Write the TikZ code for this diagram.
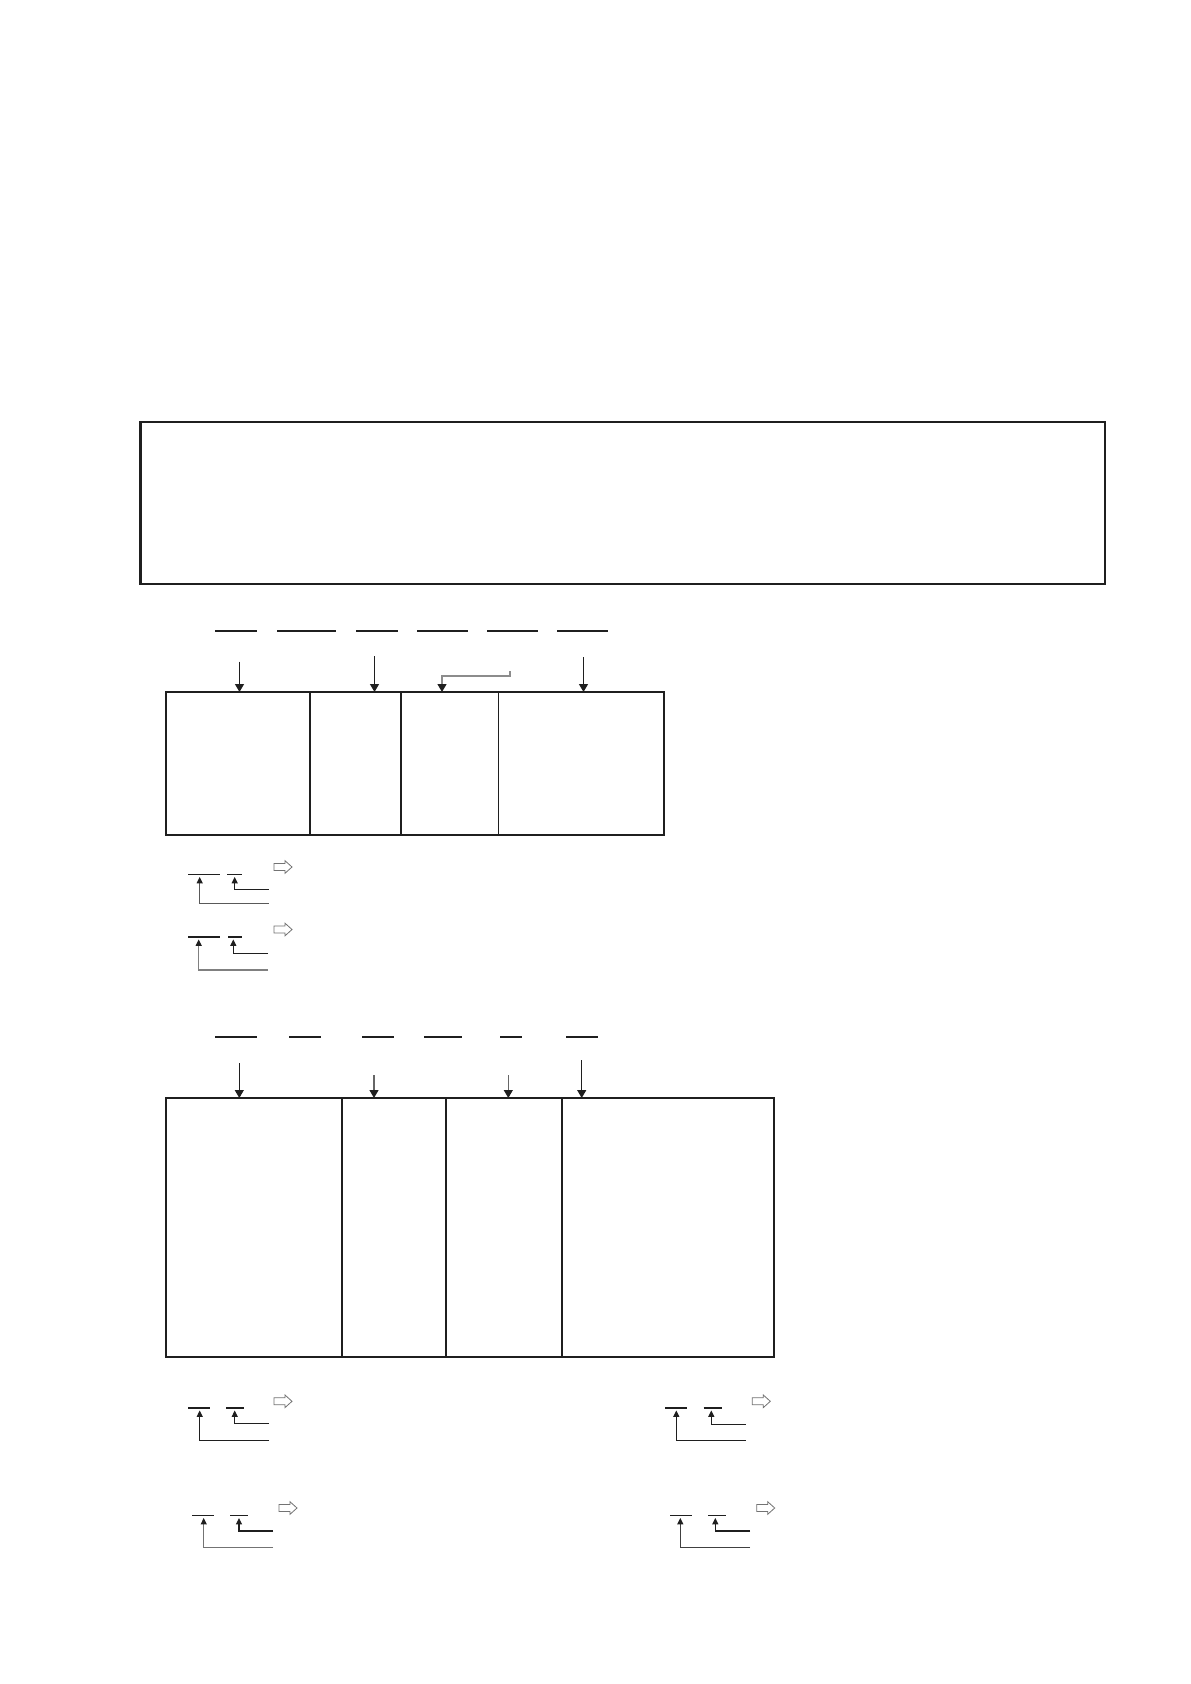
\documentclass[tikz,border=0pt]{standalone}
\usetikzlibrary{arrows.meta}
\newcommand\hollowarrow[2]{%
  \draw[hollow] (#1,#2) ++(0,-3.5) -- ++(11,0) -- ++(0,-2.8) -- ++(7,6.3) -- ++(-7,6.3) -- ++(0,-2.8) -- ++(-11,0) -- cycle;}
\begin{document}
\begin{tikzpicture}[x=0.5pt,y=-0.5pt,
  cell/.style={draw=black!88, line width=0.6pt, inner sep=0pt, outer sep=0pt, anchor=north west},
  bigframe/.style={draw=black!88, line width=1.1pt, inner sep=0pt, outer sep=0pt, anchor=north west,
                   minimum width=482.25pt, minimum height=81pt},
  heavy/.style={draw=black!88, line width=1.05pt},
  blank/.style={draw=black!88, line width=0.9pt},
  thinblank/.style={draw=black!88, line width=0.55pt},
  arr/.style={draw=black!88, line width=0.6pt, -{Triangle[width=4.5pt,length=4pt,color=black!88]}},
  sarr/.style={draw=black!88, line width=0.55pt, -{Triangle[width=3pt,length=3.2pt,color=black!88]}},
  hollow/.style={draw=black!55, line width=0.4pt, fill=white},
  ]
\useasboundingbox (0,0) rectangle (1190,1684);
\fill[white] (0,0) rectangle (1190,1684);

% ---------- large frame ----------
\node[bigframe] (big) at (140.5,422) {};

% ---------- section 1 ----------
\foreach \a/\b in {215/257, 277/336, 356/398, 417/468, 487/538, 557/608}
  \draw[blank] (\a,631) -- (\b,631);

\node[cell, minimum width=72pt,    minimum height=71.5pt] (c11) at (166,692) {};
\node[cell, minimum width=45.5pt,  minimum height=71.5pt] (c12) at (310,692) {};
\node[cell, minimum width=48.75pt, minimum height=71.5pt] (c13) at (401,692) {};
\node[cell, minimum width=82.75pt, minimum height=71.5pt] (c14) at (498.5,692) {};

\coordinate (s11) at (239.5,661.5);
\coordinate (s12) at (374.5,656);
\coordinate (s13) at (510,671);
\coordinate (x13) at (442,0);
\coordinate (s14) at (583.5,657);
\draw[arr] (s11) -- (s11 |- c11.north);
\draw[arr] (s12) -- (s12 |- c12.north);
\draw[arr, draw=black!45] (s13) -- ++(0,5) -| (x13 |- c13.north);
\draw[arr] (s14) -- (s14 |- c14.north);

% group A
\draw[thinblank] (188,874.3) -- (220,874.3);
\draw[thinblank] (227,874.3) -- (242,874.3);
\coordinate (gA1) at (268.7,903.3);
\coordinate (gA2) at (268.7,889.3);
\coordinate (tA1) at (199.7,877);
\coordinate (tA2) at (234.7,877);
\draw[sarr, draw=black!65] (gA1) -| (tA1);
\draw[sarr] (gA2) -| (tA2);
\hollowarrow{274}{867}

% group B
\draw[blank] (188,936.7) -- (220,936.7);
\draw[blank] (228,936.7) -- (242,936.7);
\coordinate (gB1) at (268,970);
\coordinate (gB2) at (268,953.3);
\coordinate (tB1) at (198.7,939.5);
\coordinate (tB2) at (233.3,939.5);
\draw[sarr, draw=black!50] (gB1) -| (tB1);
\draw[sarr] (gB2) -| (tB2);
\hollowarrow{274}{929.5}

% ---------- section 2 ----------
\foreach \a/\b in {215.3/257.3, 289.3/321.3, 362/393.7, 424/461.7, 500/522, 566/598}
  \draw[blank] (\a,1036.7) -- (\b,1036.7);

\node[cell, minimum width=88pt,  minimum height=129.5pt] (c21) at (166,1098) {};
\node[cell, minimum width=52pt,  minimum height=129.5pt] (c22) at (342,1098) {};
\node[cell, minimum width=58pt,  minimum height=129.5pt] (c23) at (446,1098) {};
\node[cell, minimum width=106pt, minimum height=129.5pt] (c24) at (562,1098) {};
\draw[heavy] (c21.north east) -- (c21.south east);
\draw[heavy] (c24.north east) -- (c24.south east) -- (c21.south west);

\coordinate (s21) at (239.3,1063.3);
\coordinate (s22) at (374,1075.3);
\coordinate (s23) at (508.3,1075.3);
\coordinate (s24) at (581.7,1060);
\draw[arr] (s21) -- (s21 |- c21.north);
\draw[arr, draw=black!60] (s22) -- (s22 |- c22.north);
\draw[arr, draw=black!60] (s23) -- (s23 |- c23.north);
\draw[arr] (s24) -- (s24 |- c24.north);

% group C
\draw[blank] (188,1407.7) -- (210,1407.7);
\draw[blank] (226,1407.7) -- (244,1407.7);
\coordinate (gC1) at (269,1440.3);
\coordinate (gC2) at (269,1423.3);
\coordinate (tC1) at (199.7,1410.5);
\coordinate (tC2) at (234.7,1410.5);
\draw[sarr] (gC1) -| (tC1);
\draw[sarr] (gC2) -| (tC2);
\hollowarrow{274}{1401.3}

% group D
\draw[blank] (665.3,1407.7) -- (687.3,1407.7);
\draw[blank] (703.7,1407.7) -- (721.7,1407.7);
\coordinate (gD1) at (745.7,1440.3);
\coordinate (gD2) at (745.7,1424.3);
\coordinate (tD1) at (676.3,1410.5);
\coordinate (tD2) at (711.3,1410.5);
\draw[sarr] (gD1) -| (tD1);
\draw[sarr] (gD2) -| (tD2);
\hollowarrow{752.3}{1401.3}

% group E
\draw[thinblank] (192,1515.3) -- (213.7,1515.3);
\draw[thinblank] (230,1515.3) -- (247.7,1515.3);
\coordinate (gE1) at (273,1547.3);
\coordinate (gE2) at (273,1531);
\coordinate (tE1) at (203.7,1518);
\coordinate (tE2) at (239,1518);
\draw[sarr, draw=black!55] (gE1) -| (tE1);
\draw[sarr] (gE2) -| (tE2);
\hollowarrow{279}{1508}

% group F
\draw[thinblank] (670,1515.3) -- (691.7,1515.3);
\draw[thinblank] (708,1515.3) -- (726,1515.3);
\coordinate (gF1) at (750,1547.3);
\coordinate (gF2) at (750,1531);
\coordinate (tF1) at (680.3,1518);
\coordinate (tF2) at (715.3,1518);
\draw[sarr, draw=black!75] (gF1) -| (tF1);
\draw[sarr] (gF2) -| (tF2);
\hollowarrow{756.7}{1508}
\end{tikzpicture}
\end{document}
